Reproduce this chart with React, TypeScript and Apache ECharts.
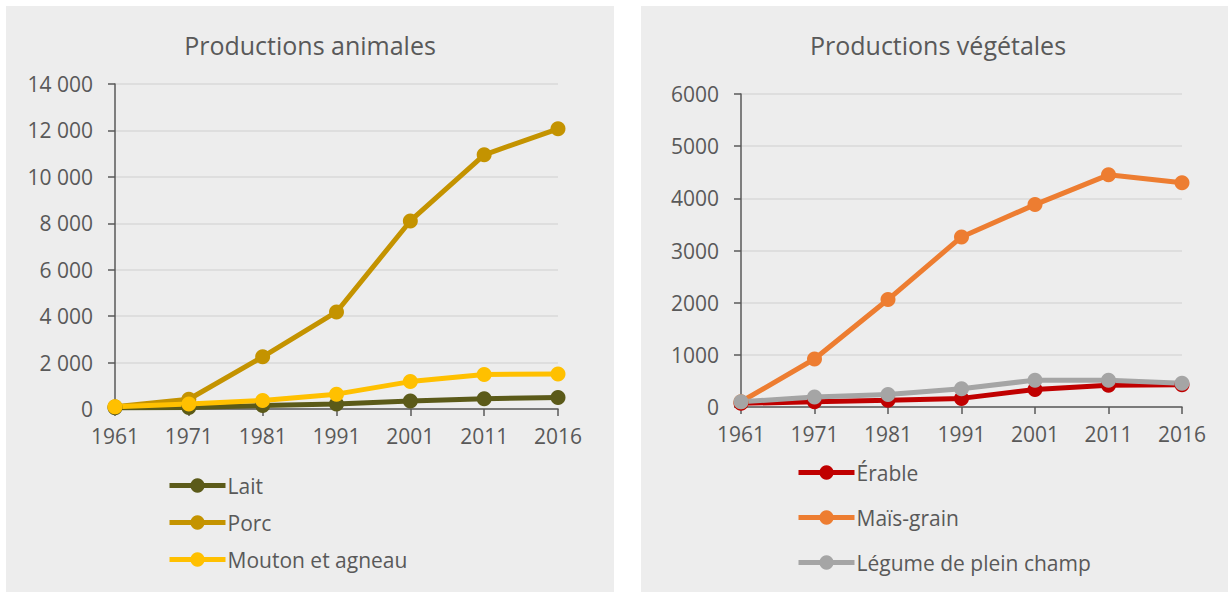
import React, { useEffect, useRef } from "react";
import * as echarts from "echarts";

const years = ["1961", "1971", "1981", "1991", "2001", "2011", "2016"];

const lait = [50, 60, 150, 220, 345, 445, 500];
const porc = [100, 420, 2250, 4180, 8100, 10950, 12070];
const mouton = [100, 220, 370, 640, 1180, 1490, 1510];

const erable = [70, 100, 130, 165, 335, 415, 425];
const mais = [100, 920, 2060, 3260, 3880, 4450, 4300];
const legume = [100, 190, 240, 350, 515, 515, 455];

const FONT = "'Open Sans', 'Noto Sans', sans-serif";
const TXT = "#595959";

function fmtSpace(v: number) {
  return String(v).replace(/\B(?=(\d{3})+(?!\d))/g, " ");
}

export default function App() {
  const ref = useRef<HTMLDivElement>(null);
  useEffect(() => {
    document.body.style.margin = "0";
    const chart = echarts.init(ref.current!, null, { renderer: "svg" });
    const mk = (name: string, data: number[], color: string, idx: number) => ({
      name,
      type: "line",
      data,
      xAxisIndex: idx,
      yAxisIndex: idx,
      symbol: "circle",
      symbolSize: 15,
      lineStyle: { width: 5, color },
      itemStyle: { color },
      emphasis: { disabled: true },
    });
    const xAx = (idx: number) => ({
      type: "category",
      gridIndex: idx,
      data: years,
      boundaryGap: false,
      axisLine: { lineStyle: { color: TXT, width: 1.5 } },
      axisTick: { show: true, length: 7, lineStyle: { color: TXT, width: 1.5 } },
      axisLabel: { color: TXT, fontSize: 21, fontFamily: FONT, margin: 16 },
      splitLine: { show: false },
    });
    const yAx = (idx: number, max: number, interval: number, fmt: (v: number) => string) => ({
      type: "value",
      gridIndex: idx,
      min: 0,
      max,
      interval,
      axisLine: { show: true, lineStyle: { color: TXT, width: 1.5 } },
      axisTick: { show: true, length: 7, lineStyle: { color: TXT, width: 1.5 } },
      axisLabel: { color: TXT, fontSize: 21, fontFamily: FONT, margin: 22, formatter: fmt },
      splitLine: { show: true, lineStyle: { color: "#d9d9d9", width: 1.5 } },
    });
    const leg = (name: string, left: number, center: number) => ({
      data: [name],
      orient: "horizontal",
      left,
      top: center - 11,
      padding: 0,
      itemWidth: 56,
      itemHeight: 18,
      itemGap: 0,
      textStyle: { color: TXT, fontSize: 21, fontFamily: FONT, padding: [0, 0, 0, -3] },
      lineStyle: { width: 5 },
      selectedMode: false,
    });
    chart.setOption({
      animation: false,
      backgroundColor: "#ffffff",
      graphic: [
        { type: "rect", z: -10, silent: true, shape: { x: 6, y: 6, width: 608, height: 586 }, style: { fill: "#ededed" } },
        { type: "rect", z: -10, silent: true, shape: { x: 641, y: 6, width: 587, height: 586 }, style: { fill: "#ededed" } },
      ],
      title: [
        { text: "Productions animales", left: 305, top: 27, textAlign: "center", textStyle: { color: TXT, fontSize: 25, fontWeight: "normal", fontFamily: FONT } },
        { text: "Productions végétales", left: 933, top: 27, textAlign: "center", textStyle: { color: TXT, fontSize: 25, fontWeight: "normal", fontFamily: FONT } },
      ],
      legend: [
        leg("Lait", 167, 486),
        leg("Porc", 167, 523),
        leg("Mouton et agneau", 167, 560),
        leg("Érable", 796, 473),
        leg("Maïs-grain", 796, 518),
        leg("Légume de plein champ", 796, 563),
      ],
      grid: [
        { left: 115, right: 670, top: 84, bottom: 183 },
        { left: 741, right: 46, top: 94, bottom: 185 },
      ],
      xAxis: [xAx(0), xAx(1)],
      yAxis: [
        yAx(0, 14000, 2000, (v: number) => fmtSpace(v)),
        yAx(1, 6000, 1000, (v: number) => String(v)),
      ],
      series: [
        mk("Lait", lait, "#5B5A19", 0),
        mk("Porc", porc, "#C49300", 0),
        mk("Mouton et agneau", mouton, "#FFC000", 0),
        mk("Érable", erable, "#C00000", 1),
        mk("Maïs-grain", mais, "#ED7D31", 1),
        mk("Légume de plein champ", legume, "#A5A5A5", 1),
      ],
    });
    return () => chart.dispose();
  }, []);
  return <div ref={ref} style={{ width: 1228, height: 592 }} />;
}
